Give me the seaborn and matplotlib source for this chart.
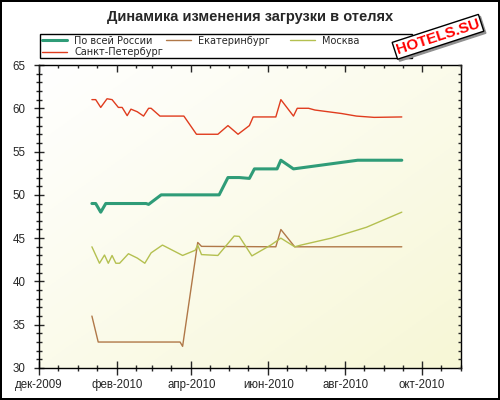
import pandas as pd
import numpy as np
import matplotlib
matplotlib.use("Agg")
import matplotlib.pyplot as plt
import matplotlib.dates as mdates
import matplotlib.ticker as mticker
import matplotlib.patches as mpatches
import matplotlib.transforms as mtransforms
from matplotlib.colors import LinearSegmentedColormap
import seaborn as sns

# --- data ---
russia_dates = ["2010-01-12", "2010-01-15", "2010-01-19", "2010-01-23", "2010-02-24", "2010-02-26",
                "2010-03-08", "2010-04-23", "2010-04-30", "2010-05-09", "2010-05-17", "2010-05-21",
                "2010-06-08", "2010-06-11", "2010-06-21", "2010-08-11", "2010-09-15"]
russia_vals = [49, 49, 48, 49, 49, 48.9, 50, 50, 52, 52, 51.9, 53, 53, 54, 53, 54, 54]

ekb_dates = ["2010-01-12", "2010-01-17", "2010-03-23", "2010-03-25", "2010-04-06", "2010-04-09",
             "2010-06-07", "2010-06-11", "2010-06-22", "2010-09-15"]
ekb_vals = [36, 33, 33, 32.5, 44.5, 44.05, 44, 46, 44, 44]

msk_dates = ["2010-01-12", "2010-01-18", "2010-01-22", "2010-01-25", "2010-01-28", "2010-01-31",
             "2010-02-03", "2010-02-10", "2010-02-17", "2010-02-23", "2010-02-28", "2010-03-09",
             "2010-03-25", "2010-04-04", "2010-04-06", "2010-04-09", "2010-04-22", "2010-05-05",
             "2010-05-09", "2010-05-19", "2010-06-03", "2010-06-11", "2010-06-22", "2010-06-27",
             "2010-07-21", "2010-08-18", "2010-09-15"]
msk_vals = [44, 42.1, 43.05, 42.1, 43, 42.1, 42.1, 43.2, 42.7, 42.1, 43.3, 44.2,
            43, 43.6, 44.2, 43.1, 43, 45.25, 45.2, 42.95, 44.2, 45, 44, 44.2,
            45, 46.26, 48]

spb_dates = ["2010-01-12", "2010-01-15", "2010-01-19", "2010-01-24", "2010-01-28", "2010-02-02",
             "2010-02-05", "2010-02-09", "2010-02-12", "2010-02-17", "2010-02-22", "2010-02-26",
             "2010-02-28", "2010-03-07", "2010-03-26", "2010-04-05", "2010-04-22", "2010-04-30",
             "2010-05-08", "2010-05-17", "2010-05-20", "2010-06-07", "2010-06-11", "2010-06-21",
             "2010-06-24", "2010-07-03", "2010-07-08", "2010-07-29", "2010-08-10", "2010-08-24",
             "2010-09-15"]
spb_vals = [61, 61, 60.1, 61.1, 61, 60.1, 60.1, 59.15, 59.9, 59.6, 59.1, 60,
            60, 59.1, 59.1, 57, 57, 58, 57, 58, 59, 59, 61, 59.1,
            60, 60, 59.8, 59.4, 59.1, 58.95, 59]

series_names = ["По всей России", "Екатеринбург", "Москва", "Санкт-Петербург"]
month_names = ["янв", "фев", "мар", "апр", "май", "июн", "июл", "авг", "сен", "окт", "ноя", "дек"]

colors = ["#2f9c78", "#b07848", "#b4c050", "#e03c1e"]
widths = [2.2, 1.0, 1.0, 1.0]

frames = []
for name, d, v in zip(series_names,
                      [russia_dates, ekb_dates, msk_dates, spb_dates],
                      [russia_vals, ekb_vals, msk_vals, spb_vals]):
    frames.append(pd.DataFrame({"date": pd.to_datetime(d), "value": v, "series": name}))
df = pd.concat(frames, ignore_index=True)

sns.set_style("white")
plt.rcParams["font.family"] = ["Liberation Sans", "DejaVu Sans"]

fig = plt.figure(figsize=(5, 4), dpi=100, edgecolor="black", linewidth=1.5)
ax = fig.add_axes([0.078, 0.08, 0.844, 0.7575])

# background gradient
xx, yy = np.meshgrid(np.linspace(0, 1, 200), np.linspace(0, 1, 200))
cmap = LinearSegmentedColormap.from_list("bg", ["#ffffff", "#f7f7d6"])
ax.imshow((xx + yy) / 2, extent=[0, 1, 0, 1], transform=ax.transAxes, cmap=cmap,
          aspect="auto", zorder=0, origin="upper")

for name, c, lw in zip(series_names, colors, widths):
    sns.lineplot(data=df[df["series"] == name], x="date", y="value", color=c,
                 linewidth=lw, ax=ax, label=name, estimator=None, sort=False, zorder=3)

ax.set_xlim(pd.Timestamp("2009-12-01"), pd.Timestamp("2010-11-01"))
ax.set_ylim(30, 65)
ax.set_xlabel("")
ax.set_ylabel("")

ax.xaxis.set_major_locator(mdates.MonthLocator(bymonth=[2, 4, 6, 8, 10, 12]))
ax.xaxis.set_minor_locator(mdates.DayLocator(bymonthday=[1, 16]))
ax.xaxis.set_major_formatter(mticker.FuncFormatter(
    lambda x, pos: "%s-%d" % (month_names[mdates.num2date(x).month - 1], mdates.num2date(x).year)))
ax.yaxis.set_major_locator(mticker.MultipleLocator(5))
ax.yaxis.set_minor_locator(mticker.MultipleLocator(1))

ax.tick_params(axis="x", which="major", direction="inout", length=10, width=1, labelsize=8.3, pad=3)
ax.tick_params(axis="x", which="minor", direction="inout", length=5, width=1)
ax.tick_params(axis="y", which="major", direction="inout", length=7, width=1, labelsize=8.3, pad=6)
ax.tick_params(axis="y", which="minor", direction="inout", length=4, width=1)
ax.tick_params(bottom=True, left=True, which="both")
for s in ax.spines.values():
    s.set_color("black")
    s.set_linewidth(1)

# top / right inward ticks
axt = ax.twiny()
axt.set_xlim(ax.get_xlim())
axt.xaxis.set_major_locator(mdates.MonthLocator(bymonth=[2, 4, 6, 8, 10, 12]))
axt.xaxis.set_minor_locator(mdates.DayLocator(bymonthday=[1, 16]))
axt.tick_params(axis="x", which="major", direction="in", length=5, width=1, labeltop=False, top=True)
axt.tick_params(axis="x", which="minor", direction="in", length=2.5, width=1, top=True)
axr = ax.twinx()
axr.set_ylim(30, 65)
axr.yaxis.set_major_locator(mticker.MultipleLocator(5))
axr.yaxis.set_minor_locator(mticker.MultipleLocator(1))
axr.tick_params(axis="y", which="both", direction="in", length=2.5, width=1, labelright=False, right=True)
for a in (axt, axr):
    for s in a.spines.values():
        s.set_visible(False)

# legend: one frame, three fixed-pitch columns
handles, labels = ax.get_legend_handles_labels()
ax.get_legend().remove()
frame = mpatches.Rectangle((40 / 500, 1 - 58 / 400), 372 / 500, 24 / 400, transform=fig.transFigure,
                           fc="white", ec="black", lw=1, zorder=4)
fig.add_artist(frame)
columns = [[0, 3], [1], [2]]
col_x = [42 / 500, 166 / 500, 290 / 500]
for idx, cx in zip(columns, col_x):
    lg = fig.legend([handles[i] for i in idx], [labels[i] for i in idx], loc="upper left",
                    bbox_to_anchor=(cx, 1 - 35.5 / 400), frameon=False,
                    prop={"family": "DejaVu Sans", "size": 7}, borderpad=0, borderaxespad=0,
                    handlelength=2.6, handletextpad=0.72, labelspacing=0.18)
    lg.set_zorder(5)

fig.text(0.5, 1 - 17 / 400, "Динамика изменения загрузки в отелях", ha="center", va="center",
         fontsize=10.5, fontweight="bold")

# stamp with a small shadow
shadow = mtransforms.offset_copy(fig.transFigure, fig=fig, x=2, y=-2, units="dots")
fig.text(0.876, 0.908, "HOTELS.SU", ha="center", va="center", rotation=18, color="#909090",
         fontsize=11, fontweight="bold", transform=shadow, zorder=9,
         bbox=dict(boxstyle="square,pad=0.12", fc="#909090", ec="#909090", lw=1))
fig.text(0.876, 0.908, "HOTELS.SU", ha="center", va="center", rotation=18, color="red",
         fontsize=11, fontweight="bold", zorder=10,
         bbox=dict(boxstyle="square,pad=0.12", fc="white", ec="black", lw=1))

fig.savefig("out.png", dpi=100, edgecolor=fig.get_edgecolor())
